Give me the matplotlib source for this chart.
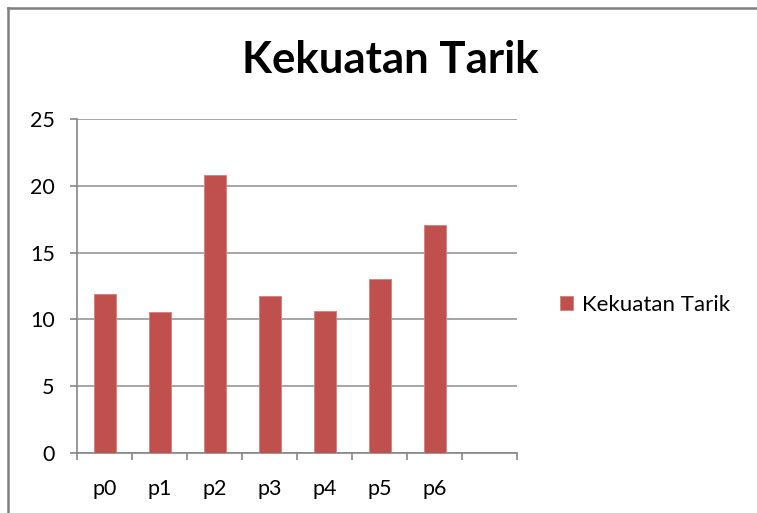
import matplotlib.pyplot as plt
from matplotlib.lines import Line2D
import numpy as np

categories = ['p0', 'p1', 'p2', 'p3', 'p4', 'p5', 'p6', '']
values = [11.88, 10.53, 20.78, 11.73, 10.65, 13.05, 17.07, np.nan]
series_name = 'Kekuatan Tarik'
yticks = [0, 5, 10, 15, 20, 25]

BAR_COLOR = '#C0504D'
GRID_COLOR = '#A6A6A6'
AXIS_COLOR = '#868686'

plt.rcParams['font.family'] = ['Lato', 'DejaVu Sans']

W, H = 757, 513
fig = plt.figure(figsize=(W / 100, H / 100), dpi=100)
ax = fig.add_axes([77 / W, 1 - 453 / H, 440 / W, 334 / H])

x = np.arange(len(categories))
ax.bar(x, values, width=0.4, color=BAR_COLOR, edgecolor='#D47F7C',
       linewidth=0.6, label=series_name, zorder=3)

ax.set_xlim(-0.5, len(categories) - 0.5)
ax.set_ylim(0, 25)
ax.set_yticks(yticks)
ax.set_yticklabels([str(v) for v in yticks])
ax.set_xticks(x)
ax.set_xticklabels(categories)
# category boundary ticks like Excel
ax.set_xticks(np.arange(len(categories) + 1) - 0.5, minor=True)
ax.tick_params(axis='x', which='major', length=0, pad=19, labelsize=15.5,
               labelcolor='#000000')
ax.tick_params(axis='x', which='minor', length=5, width=1.2,
               color=AXIS_COLOR, direction='out')
ax.tick_params(axis='y', length=5, width=1.2, color=AXIS_COLOR,
               direction='out', pad=11, labelsize=15.5, labelcolor='#000000')

ax.grid(axis='y', color=GRID_COLOR, linewidth=1.4, zorder=0)
for side in ['top', 'right']:
    ax.spines[side].set_visible(False)
for side in ['left', 'bottom']:
    ax.spines[side].set_color(AXIS_COLOR)
    ax.spines[side].set_linewidth(1.2)

fig.text(390 / W, 1 - 60 / H, 'Kekuatan Tarik', ha='center', va='center',
         fontsize=31.5, fontweight='bold')

ax.legend(loc='center left', bbox_to_anchor=(560 / W, 1 - 305 / H),
          bbox_transform=fig.transFigure, frameon=False, fontsize=16,
          borderaxespad=0, borderpad=0,
          handlelength=0.6, handleheight=0.6, handletextpad=0.4)

# outer chart border (left and top edges visible)
fig.add_artist(Line2D([8 / W, 8 / W], [0, 1 - 8 / H], color='#7F7F7F',
                      linewidth=1.8, transform=fig.transFigure))
fig.add_artist(Line2D([8 / W, 1], [1 - 8 / H, 1 - 8 / H], color='#7F7F7F',
                      linewidth=1.8, transform=fig.transFigure))

fig.savefig('out.png', dpi=100)
